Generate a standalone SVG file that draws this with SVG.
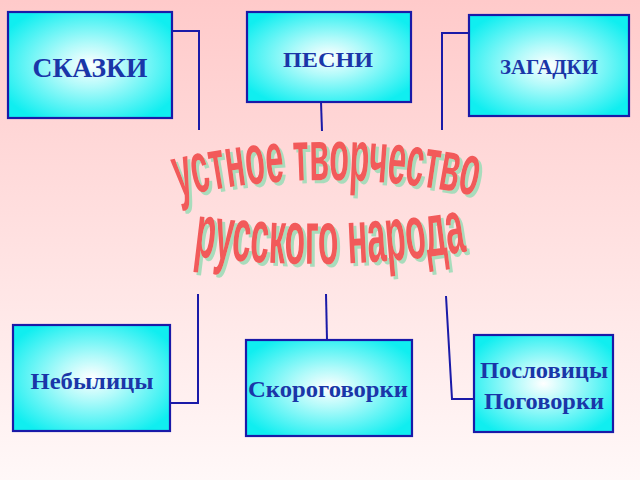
<svg xmlns="http://www.w3.org/2000/svg" width="640" height="480" viewBox="0 0 640 480">
<defs>
<linearGradient id="bg" x1="0" y1="0" x2="0" y2="1">
<stop offset="0" stop-color="#ffcaca"/>
<stop offset="1" stop-color="#fff8f8"/>
</linearGradient>
<radialGradient id="box" cx="0.5" cy="0.5" r="0.6">
<stop offset="0" stop-color="#ffffff"/>
<stop offset="0.35" stop-color="#b0fafa"/>
<stop offset="1" stop-color="#10eef0"/>
</radialGradient>
<filter id="shadow" x="-5%" y="-10%" width="115%" height="130%">
<feOffset in="SourceAlpha" dx="3" dy="3" result="off"/>
<feFlood flood-color="#a8dcbc"/>
<feComposite in2="off" operator="in" result="sh"/>
<feMerge><feMergeNode in="sh"/><feMergeNode in="SourceGraphic"/></feMerge>
</filter>
<path id="arc1" d="M 178 197 Q 325 163 480 197"/>
<path id="arc2" d="M 193 256 Q 330 274 470 251"/>
</defs>
<style>
.box{fill:url(#box);stroke:#1a1aa8;stroke-width:2.2}
.lbl{font-family:"Liberation Serif","Times New Roman",serif;font-weight:bold;fill:#1a36a8;text-anchor:middle}
.con{fill:none;stroke:#1a1aa8;stroke-width:2}
.wa{font-family:"Liberation Sans Narrow","Liberation Sans",Arial,sans-serif;font-weight:bold;fill:#f25a5a}
</style>
<rect width="640" height="480" fill="url(#bg)"/>
<g id="connectors">
<polyline class="con" points="172,31 199,31 199,130"/>
<polyline class="con" points="321,102 322,131"/>
<polyline class="con" points="469,33 442,33 442,130"/>
<polyline class="con" points="170,403 198,403 198,294"/>
<polyline class="con" points="327,340 326,294"/>
<polyline class="con" points="474,399 452,399 446,296"/>
</g>
<g id="title" filter="url(#shadow)">
<text class="wa" font-size="72"><textPath href="#arc1" textLength="300" lengthAdjust="spacingAndGlyphs">устное творчество</textPath></text>
<text class="wa" font-size="76"><textPath href="#arc2" textLength="275" lengthAdjust="spacingAndGlyphs">русского народа</textPath></text>
</g>
<g id="node-skazki">
<rect class="box" x="8" y="12" width="164" height="106"/>
<text class="lbl" x="90" y="77" font-size="27" textLength="115" lengthAdjust="spacingAndGlyphs">СКАЗКИ</text>
</g>
<g id="node-pesni">
<rect class="box" x="247" y="12" width="164" height="90"/>
<text class="lbl" x="328" y="67" font-size="22" textLength="90" lengthAdjust="spacingAndGlyphs">ПЕСНИ</text>
</g>
<g id="node-zagadki">
<rect class="box" x="469" y="15" width="160" height="101"/>
<text class="lbl" x="549" y="74" font-size="21" font-weight="normal" textLength="98" lengthAdjust="spacingAndGlyphs">ЗАГАДКИ</text>
</g>
<g id="node-nebylitsy">
<rect class="box" x="13" y="325" width="157" height="106"/>
<text class="lbl" x="92" y="389" font-size="24" textLength="123" lengthAdjust="spacingAndGlyphs">Небылицы</text>
</g>
<g id="node-skorogovorki">
<rect class="box" x="246" y="340" width="166" height="96"/>
<text class="lbl" x="328" y="397" font-size="24" textLength="160" lengthAdjust="spacingAndGlyphs">Скороговорки</text>
</g>
<g id="node-poslovitsy">
<rect class="box" x="474" y="335" width="139" height="97"/>
<text class="lbl" x="544" y="378" font-size="24" textLength="128" lengthAdjust="spacingAndGlyphs">Пословицы</text>
<text class="lbl" x="544" y="409" font-size="24" textLength="120" lengthAdjust="spacingAndGlyphs">Поговорки</text>
</g>
</svg>
